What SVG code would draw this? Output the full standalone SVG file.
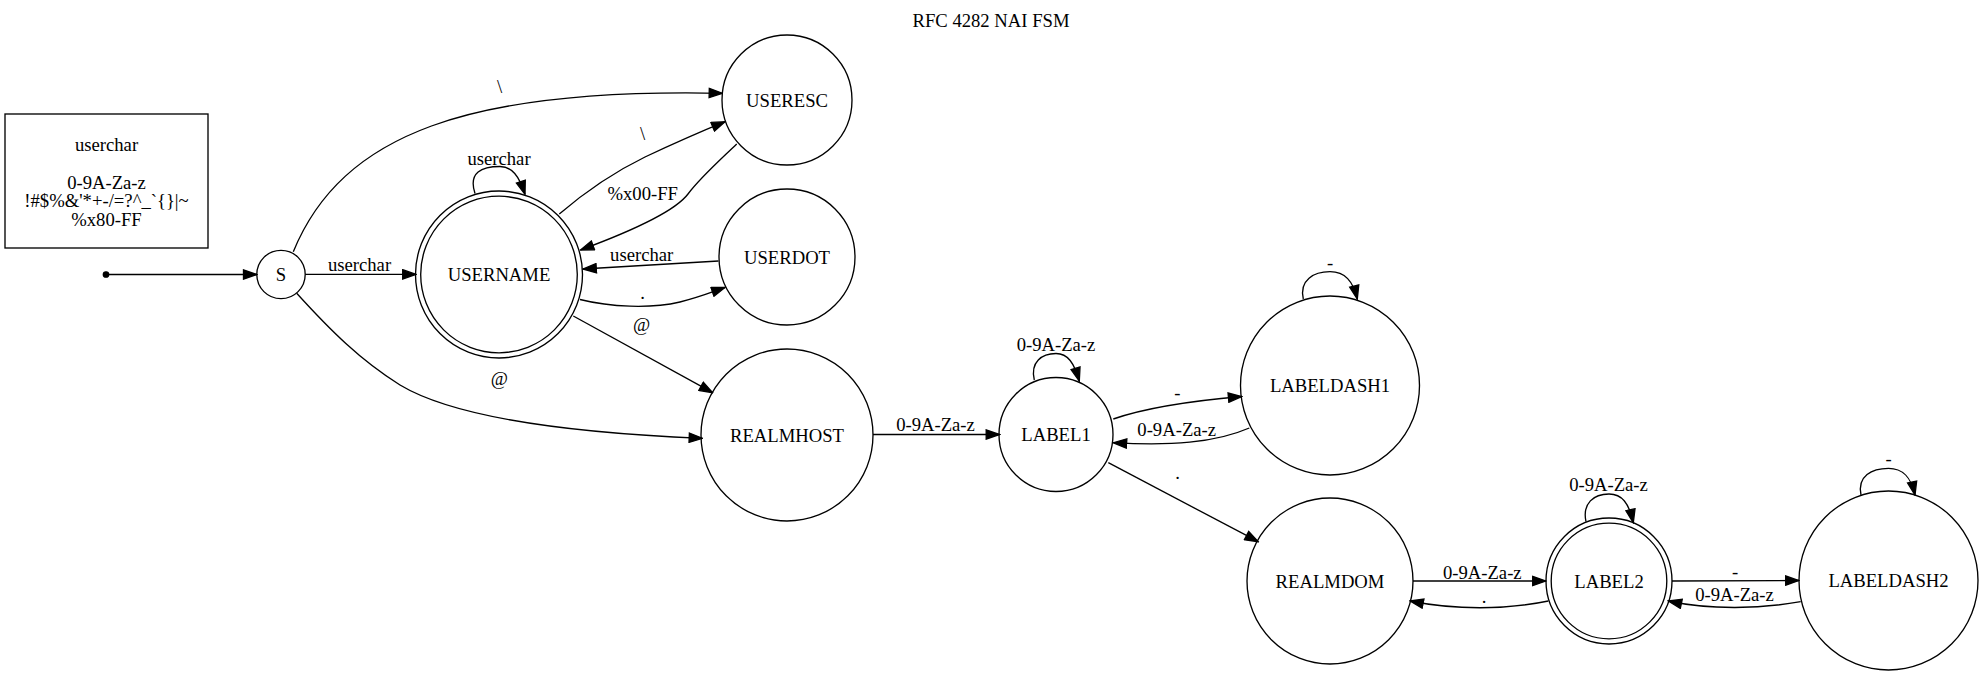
<svg xmlns="http://www.w3.org/2000/svg" width="1983" height="676" viewBox="0 0 1983 676">
  <style>
    text { font-family: "Liberation Serif", "Times New Roman", serif; font-size: 18.67px; fill: #000; text-anchor: middle; }
    .node { fill: none; stroke: #000; stroke-width: 1.33; }
    .edge { fill: none; stroke: #000; stroke-width: 1.33; marker-end: url(#arrow); }
  </style>
  <defs>
    <marker id="arrow" viewBox="-1 -1 15.3 11.33" refX="13.3" refY="4.67" markerWidth="15.3" markerHeight="11.33" markerUnits="userSpaceOnUse" orient="auto">
      <path d="M0,0 L13.3,4.67 L0,9.33 Z" fill="#000" stroke="#000" stroke-width="1.33"/>
    </marker>
  </defs>
  <rect width="1983" height="676" fill="#fff"/>

  <text x="991" y="26.5">RFC 4282 NAI FSM</text>

  <!-- legend box -->
  <g id="legend">
    <rect x="5" y="114" width="203" height="134" class="node"/>
    <text x="106.5" y="150.5">userchar</text>
    <text x="106.5" y="188.5">0-9A-Za-z</text>
    <text x="106.5" y="207">!#$%&amp;'*+-/=?^_`{}|~</text>
    <text x="106.5" y="225.5">%x80-FF</text>
  </g>

  <!-- states -->
  <g id="start">
    <circle cx="106" cy="274.5" r="2.7" fill="#000" stroke="#000" stroke-width="1.33"/>
  </g>
  <g id="S">
    <circle cx="281" cy="274.5" r="24.2" class="node"/>
    <text x="281" y="281">S</text>
  </g>
  <g id="USERNAME">
    <circle cx="499" cy="274.5" r="83.5" class="node"/>
    <circle cx="499" cy="274.5" r="78.3" class="node"/>
    <text x="499" y="281.3">USERNAME</text>
  </g>
  <g id="USERESC">
    <circle cx="787" cy="100" r="65" class="node"/>
    <text x="787" y="106.5">USERESC</text>
  </g>
  <g id="USERDOT">
    <circle cx="787" cy="257" r="68" class="node"/>
    <text x="787" y="263.5">USERDOT</text>
  </g>
  <g id="REALMHOST">
    <circle cx="787" cy="435" r="86" class="node"/>
    <text x="787" y="441.5">REALMHOST</text>
  </g>
  <g id="LABEL1">
    <circle cx="1056" cy="434.5" r="57" class="node"/>
    <text x="1056" y="441">LABEL1</text>
  </g>
  <g id="LABELDASH1">
    <circle cx="1330" cy="385.5" r="89.5" class="node"/>
    <text x="1330" y="392">LABELDASH1</text>
  </g>
  <g id="REALMDOM">
    <circle cx="1330" cy="581" r="83" class="node"/>
    <text x="1330" y="587.5">REALMDOM</text>
  </g>
  <g id="LABEL2">
    <circle cx="1609" cy="581" r="63" class="node"/>
    <circle cx="1609" cy="581" r="57.8" class="node"/>
    <text x="1609" y="587.5">LABEL2</text>
  </g>
  <g id="LABELDASH2">
    <circle cx="1888.5" cy="580.5" r="89.5" class="node"/>
    <text x="1888.5" y="587">LABELDASH2</text>
  </g>

  <!-- transitions -->
  <g id="edges">
    <path class="edge" d="M106,274.5 L256.8,274.5"/>

    <path class="edge" d="M305.2,274.4 L416,274.4"/>
    <text x="359.5" y="271">userchar</text>

    <path class="edge" d="M293.3,251.7 C342,133 470,88 722.5,93.3"/>
    <text x="499.5" y="93">\</text>

    <path class="edge" d="M475,193.5 C468,172 482,166.5 500,166.5 C512,166.5 519,176 525,194.3"/>
    <text x="499" y="165">userchar</text>

    <path class="edge" d="M559.3,214 C585,192 610,174 645,157 C675,143 700,132 725,121.7"/>
    <text x="642.7" y="140">\</text>

    <path class="edge" d="M736.7,144 C718,162 700,178 688,194 C676,210 640,228 580.5,250"/>
    <text x="642.7" y="199.5">%x00-FF</text>

    <path class="edge" d="M718.5,261 L583,269"/>
    <text x="641.7" y="261">userchar</text>

    <path class="edge" d="M580,299.5 C610,307 650,309 680,302 C700,297 712,292 725,287.5"/>
    <text x="642.7" y="298.5">.</text>

    <path class="edge" d="M573.3,316 L712.7,392.7"/>
    <text x="641.7" y="330.5">@</text>

    <path class="edge" d="M296.7,293.3 C330,330 360,360 400,385 C450,415 550,432 702.5,438.3"/>
    <text x="499.3" y="384.5">@</text>

    <path class="edge" d="M873,434.5 L999.5,434.5"/>
    <text x="935.5" y="431">0-9A-Za-z</text>

    <path class="edge" d="M1034.3,380 C1030,362 1042,353.5 1056,353.5 C1068,353.5 1074,363 1079.3,381"/>
    <text x="1056" y="351">0-9A-Za-z</text>

    <path class="edge" d="M1113.3,419 C1145,408 1190,401 1241.7,396.5"/>
    <text x="1177.3" y="399">-</text>

    <path class="edge" d="M1249.3,428 C1215,443 1170,446 1113.3,442.7"/>
    <text x="1176.7" y="435.5">0-9A-Za-z</text>

    <path class="edge" d="M1303.3,299 C1299,280 1314,271.7 1330,271.7 C1345,271.7 1353,281 1357.3,299"/>
    <text x="1330" y="269">-</text>

    <path class="edge" d="M1108.3,462.7 L1258.3,541.7"/>
    <text x="1177.7" y="478.5">.</text>

    <path class="edge" d="M1413,581 L1546,581"/>
    <text x="1482.3" y="579">0-9A-Za-z</text>

    <path class="edge" d="M1548.3,601 C1505,610 1455,610 1410,601"/>
    <text x="1484" y="602.5">.</text>

    <path class="edge" d="M1586,521.7 C1582,503 1594,494 1609,494 C1622,494 1629,503 1633.3,522.7"/>
    <text x="1608.5" y="491">0-9A-Za-z</text>

    <path class="edge" d="M1672,581 L1799,580.5"/>
    <text x="1735" y="578">-</text>

    <path class="edge" d="M1800.7,601.7 C1760,609 1710,610 1668.3,601"/>
    <text x="1734.5" y="601">0-9A-Za-z</text>

    <path class="edge" d="M1861,495 C1857,476 1872,468.3 1888.5,468.3 C1903,468.3 1911,477 1915,495"/>
    <text x="1888.5" y="465">-</text>
  </g>
</svg>
